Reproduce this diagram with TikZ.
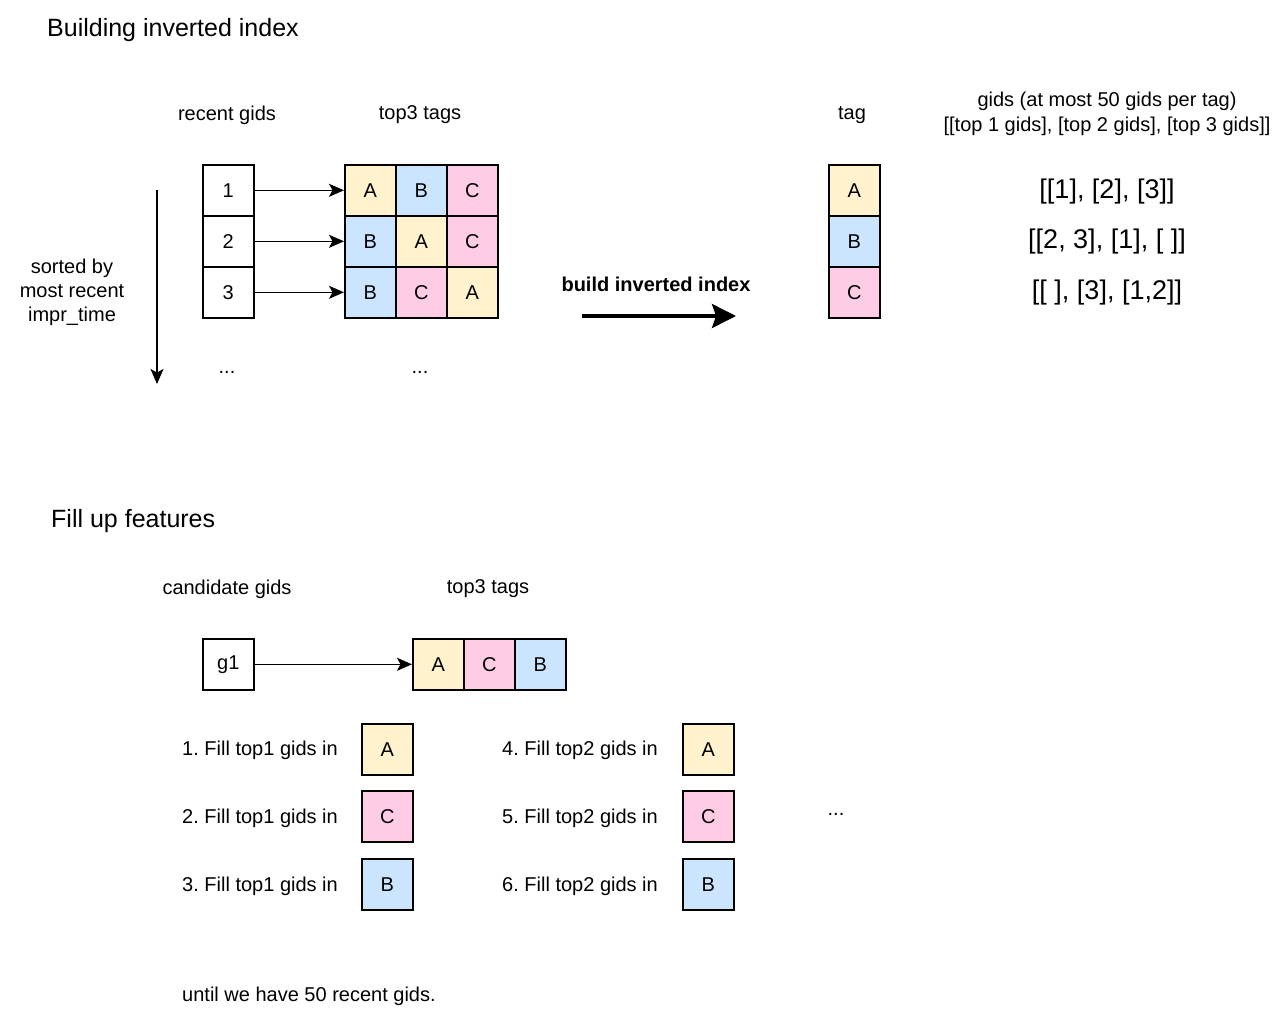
\documentclass[tikz,border=0pt]{standalone}
\usepackage{fontspec}
\setmainfont{Liberation Sans}
\usetikzlibrary{arrows.meta}
\definecolor{cy}{HTML}{FFF2CC}
\definecolor{cb}{HTML}{CCE5FF}
\definecolor{cp}{HTML}{FFCCE6}
\frenchspacing
\tikzset{
  cell/.style={draw=black, line width=1.6pt, minimum width=51pt, minimum height=51pt, inner sep=0pt, anchor=north west, font=\fontsize{20}{24}\selectfont},
  lbl/.style={font=\fontsize{20}{24}\selectfont, inner sep=0pt},
  ttl/.style={font=\fontsize{25}{30}\selectfont, inner sep=0pt, anchor=west},
  lst/.style={font=\fontsize{27}{32}\selectfont, inner sep=0pt},
  conn/.style={line width=1.4pt, -{Stealth[length=15pt,width=13pt,inset=3.5pt]}},
  bigarrow/.style={line width=3.5pt, -{Stealth[length=24pt,width=24pt,inset=4pt]}},
}
\begin{document}
\begin{tikzpicture}[x=1pt,y=-1pt]
\useasboundingbox[fill=white] (0,0) rectangle (1280,1018);

% ---------- Section 1 ----------
\node[ttl] (t1) at (47,30) {Building inverted index};
\node[lbl] (hrg) at (227,115) {recent gids};
\node[lbl] (htt) at (420,115) {top3 tags};
\node[lbl] (htag) at (852,115) {tag};
\node[lbl, align=center, font=\fontsize{20}{25}\selectfont] (hgids) at (1107,114) {gids (at most 50 gids per tag)\\{}[[top 1 gids], [top 2 gids], [top 3 gids]]};

\node[cell] (r1) at (202,164) {1};
\node[cell] (r2) at (202,215) {2};
\node[cell] (r3) at (202,266) {3};

\node[cell, fill=cy] (a11) at (344,164) {A};
\node[cell, fill=cb] (a12) at (395,164) {B};
\node[cell, fill=cp] (a13) at (446,164) {C};
\node[cell, fill=cb] (a21) at (344,215) {B};
\node[cell, fill=cy] (a22) at (395,215) {A};
\node[cell, fill=cp] (a23) at (446,215) {C};
\node[cell, fill=cb] (a31) at (344,266) {B};
\node[cell, fill=cp] (a32) at (395,266) {C};
\node[cell, fill=cy] (a33) at (446,266) {A};

\draw[conn] (r1.east) -- (a11.west);
\draw[conn] (r2.east) -- (a21.west);
\draw[conn] (r3.east) -- (a31.west);

\node[lbl] (d1) at (227,372) {...};
\node[lbl] (d2) at (420,372) {...};

\coordinate (s0) at (157,190);
\coordinate (s1) at (157,384);
\draw[conn] (s0) -- (s1);
\node[lbl, align=center, font=\fontsize{20}{24}\selectfont] (sorted) at (72,292) {sorted by\\most recent\\impr\_time};

\node[lbl, font=\bfseries\fontsize{20}{24}\selectfont] (bii) at (656,284) {build inverted index};
\coordinate (b0) at (582,316);
\coordinate (b1) at (736,316);
\draw[bigarrow] (b0) -- (b1);

\node[cell, fill=cy] (ta) at (828,164) {A};
\node[cell, fill=cb] (tb) at (828,215) {B};
\node[cell, fill=cp] (tc) at (828,266) {C};

\node[lst] (l1) at (1107,192) {[[1], [2], [3]]};
\node[lst] (l2) at (1107,242) {[[2, 3], [1], [ ]]};
\node[lst] (l3) at (1107,293) {[[ ], [3], [1,2]]};

% ---------- Section 2 ----------
\node[ttl] (t2) at (51,521) {Fill up features};
\node[lbl] (hcg) at (227,589) {candidate gids};
\node[lbl] (htt2) at (488,589) {top3 tags};

\node[cell] (g1) at (202,638) {g1};
\node[cell, fill=cy] (ga) at (412,638) {A};
\node[cell, fill=cp] (gc) at (463,638) {C};
\node[cell, fill=cb] (gb) at (514,638) {B};
\draw[conn] (g1.east) -- (ga.west);

\node[cell, fill=cy] (f1) at (361,723) {A};
\node[cell, fill=cp] (f2) at (361,790) {C};
\node[cell, fill=cb] (f3) at (361,858) {B};
\node[lbl, anchor=west] (s1l) at (182,750) {1. Fill top1 gids in};
\node[lbl, anchor=west] (s2l) at (182,818) {2. Fill top1 gids in};
\node[lbl, anchor=west] (s3l) at (182,886) {3. Fill top1 gids in};

\node[cell, fill=cy] (f4) at (682,723) {A};
\node[cell, fill=cp] (f5) at (682,790) {C};
\node[cell, fill=cb] (f6) at (682,858) {B};
\node[lbl, anchor=west] (s4l) at (502,750) {4. Fill top2 gids in};
\node[lbl, anchor=west] (s5l) at (502,818) {5. Fill top2 gids in};
\node[lbl, anchor=west] (s6l) at (502,886) {6. Fill top2 gids in};

\node[lbl] (d3) at (836,814) {...};
\node[lbl, anchor=west] (until) at (182,996) {until we have 50 recent gids.};
\end{tikzpicture}
\end{document}
